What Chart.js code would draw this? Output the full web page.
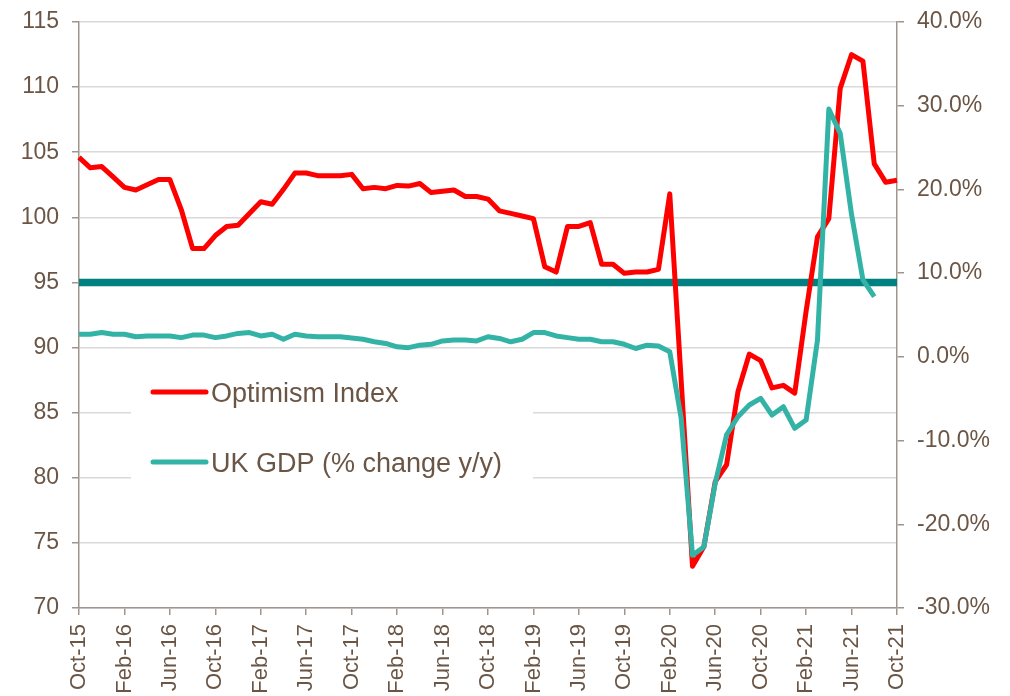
<!DOCTYPE html>
<html>
<head>
<meta charset="utf-8">
<title>Optimism Index vs UK GDP</title>
<script src="https://cdn.jsdelivr.net/npm/chart.js@4"></script>
<style>
  body { margin: 0; background: #fff; }
  #optimism-chart { display: block; }
</style>
</head>
<body>
<canvas id="optimism-chart" width="1010" height="696"></canvas>
<script>
//Data

const months = ['Oct-15','Nov-15','Dec-15','Jan-16','Feb-16','Mar-16','Apr-16','May-16','Jun-16','Jul-16','Aug-16','Sep-16',
  'Oct-16','Nov-16','Dec-16','Jan-17','Feb-17','Mar-17','Apr-17','May-17','Jun-17','Jul-17','Aug-17','Sep-17',
  'Oct-17','Nov-17','Dec-17','Jan-18','Feb-18','Mar-18','Apr-18','May-18','Jun-18','Jul-18','Aug-18','Sep-18',
  'Oct-18','Nov-18','Dec-18','Jan-19','Feb-19','Mar-19','Apr-19','May-19','Jun-19','Jul-19','Aug-19','Sep-19',
  'Oct-19','Nov-19','Dec-19','Jan-20','Feb-20','Mar-20','Apr-20','May-20','Jun-20','Jul-20','Aug-20','Sep-20',
  'Oct-20','Nov-20','Dec-20','Jan-21','Feb-21','Mar-21','Apr-21','May-21','Jun-21','Jul-21','Aug-21','Sep-21',
  'Oct-21'];

const optimismIndex = [104.6,103.8,103.9,103.1,102.3,102.1,102.5,102.9,102.9,100.6,
  97.6,97.6,98.6,99.3,99.4,100.3,101.2,101.0,102.15,103.4,
  103.4,103.2,103.2,103.2,103.3,102.2,102.3,102.2,102.45,102.4,
  102.6,101.9,102.0,102.1,101.6,101.6,101.4,100.5,100.3,100.1,
  99.9,96.2,95.8,99.3,99.3,99.6,96.4,96.4,95.7,95.8,
  95.8,96.0,101.8,87.5,73.2,74.7,79.7,81.0,86.6,89.5,
  89.0,86.9,87.1,86.5,92.8,98.5,99.9,109.9,112.5,112.0,
  104.1,102.7,102.85];

const ukGdpChange = [2.7,2.7,2.9,2.7,2.7,2.4,2.5,2.5,2.5,2.3,
  2.6,2.6,2.3,2.5,2.8,2.9,2.5,2.7,2.1,2.7,
  2.5,2.4,2.4,2.4,2.25,2.1,1.8,1.6,1.2,1.1,
  1.4,1.5,1.9,2.0,2.0,1.9,2.4,2.2,1.8,2.1,
  2.9,2.9,2.5,2.3,2.1,2.1,1.8,1.8,1.5,1.0,
  1.4,1.3,0.6,-7.3,-23.7,-22.7,-15.1,-9.3,-7.15,-5.75,
  -4.96,-6.95,-5.96,-8.54,-7.55,2.0,29.6,26.7,17.0,9.2,
  7.2,null,null];

//Neutral level of the index (flat line)
const neutralLevel = 95;

const leftTicks = { min: 70, max: 115, step: 5 };
const rightTicks = { min: -30, max: 40, step: 10 };

//Styling
const textColor = '#6b5646';
const axisColor = '#a0958c';
const gridColor = '#d9d9d9';
const fontFamily = '"Liberation Sans", Arial, sans-serif';

//Legend drawn inside the plot, on a white box
const insideLegend = {
  id: 'insideLegend',
  afterDatasetsDraw(chart) {
    const ctx = chart.ctx;
    ctx.save();
    ctx.fillStyle = '#fff';
    ctx.fillRect(131, 362, 402, 130);
    const rows = [
      { ds: chart.data.datasets[1], y: 392 },
      { ds: chart.data.datasets[0], y: 462 }
    ];
    rows.forEach(function (row) {
      ctx.strokeStyle = row.ds.borderColor;
      ctx.lineWidth = 5;
      ctx.lineCap = 'round';
      ctx.beginPath();
      ctx.moveTo(153, row.y);
      ctx.lineTo(206, row.y);
      ctx.stroke();
      ctx.fillStyle = textColor;
      ctx.font = '27px ' + fontFamily;
      ctx.textBaseline = 'alphabetic';
      ctx.fillText(row.ds.label, 211, row.y + 10);
    });
    ctx.restore();
  }
};

//Fix the axis sizes so the plot area sits where the reference has it
function fixHeight(h) {
  return function (s) { s.height = h; s.paddingLeft = 0; s.paddingRight = 0; };
}
function fixWidth(w) {
  return function (s) { s.width = w; s.paddingTop = 0; s.paddingBottom = 0; };
}

new Chart(document.getElementById('optimism-chart'), {
  type: 'line',
  data: {
    labels: months,
    datasets: [{
        label: 'UK GDP (% change y/y)',
        data: ukGdpChange,
        yAxisID: 'y1',
        borderColor: '#33b3a6',
        borderWidth: 5,
        order: 0
      }, {
        label: 'Optimism Index',
        data: optimismIndex,
        yAxisID: 'y',
        borderColor: '#ff0000',
        borderWidth: 5,
        order: 1
      }, {
        label: 'Neutral',
        data: months.map(function () { return neutralLevel; }),
        yAxisID: 'y',
        borderColor: '#008080',
        borderWidth: 7.5,
        order: 2
      }
    ]
  },
  options: {
    responsive: false,
    animation: false,
    devicePixelRatio: 1,
    layout: { padding: { top: 22, left: 0, right: 0, bottom: 0 } },
    elements: {
      point: { radius: 0 },
      line: { tension: 0, borderJoinStyle: 'round', borderCapStyle: 'butt', fill: false }
    },
    plugins: {
      legend: { display: false },
      tooltip: { enabled: false }
    },
    scales: {
      x: {
        type: 'category',
        offset: false,
        afterFit: fixHeight(88),
        border: { color: axisColor, width: 1.5 },
        grid: { drawOnChartArea: false, drawTicks: true, tickLength: 7, tickColor: axisColor, lineWidth: 1.5 },
        ticks: {
          autoSkip: false,
          minRotation: 90,
          maxRotation: 90,
          padding: 9,
          color: textColor,
          font: { family: fontFamily, size: 22 },
          callback: function (value, index) {
            return index % 4 === 0 ? this.getLabelForValue(value) : null;
          }
        }
      },
      y: {
        position: 'left',
        min: leftTicks.min,
        max: leftTicks.max,
        afterFit: fixWidth(79),
        border: { color: axisColor, width: 1.5 },
        grid: { color: gridColor, lineWidth: 1.5, tickLength: 7, tickColor: axisColor },
        ticks: {
          stepSize: leftTicks.step,
          padding: 13,
          color: textColor,
          font: { family: fontFamily, size: 23 }
        }
      },
      y1: {
        position: 'right',
        min: rightTicks.min,
        max: rightTicks.max,
        afterFit: fixWidth(113),
        border: { color: axisColor, width: 1.5 },
        grid: { drawOnChartArea: false, tickLength: 7, tickColor: axisColor, lineWidth: 1.5 },
        ticks: {
          stepSize: rightTicks.step,
          padding: 13,
          color: textColor,
          font: { family: fontFamily, size: 23 },
          callback: function (value) { return value.toFixed(1) + '%'; }
        }
      }
    }
  },
  plugins: [insideLegend]
});
</script>
</body>
</html>
